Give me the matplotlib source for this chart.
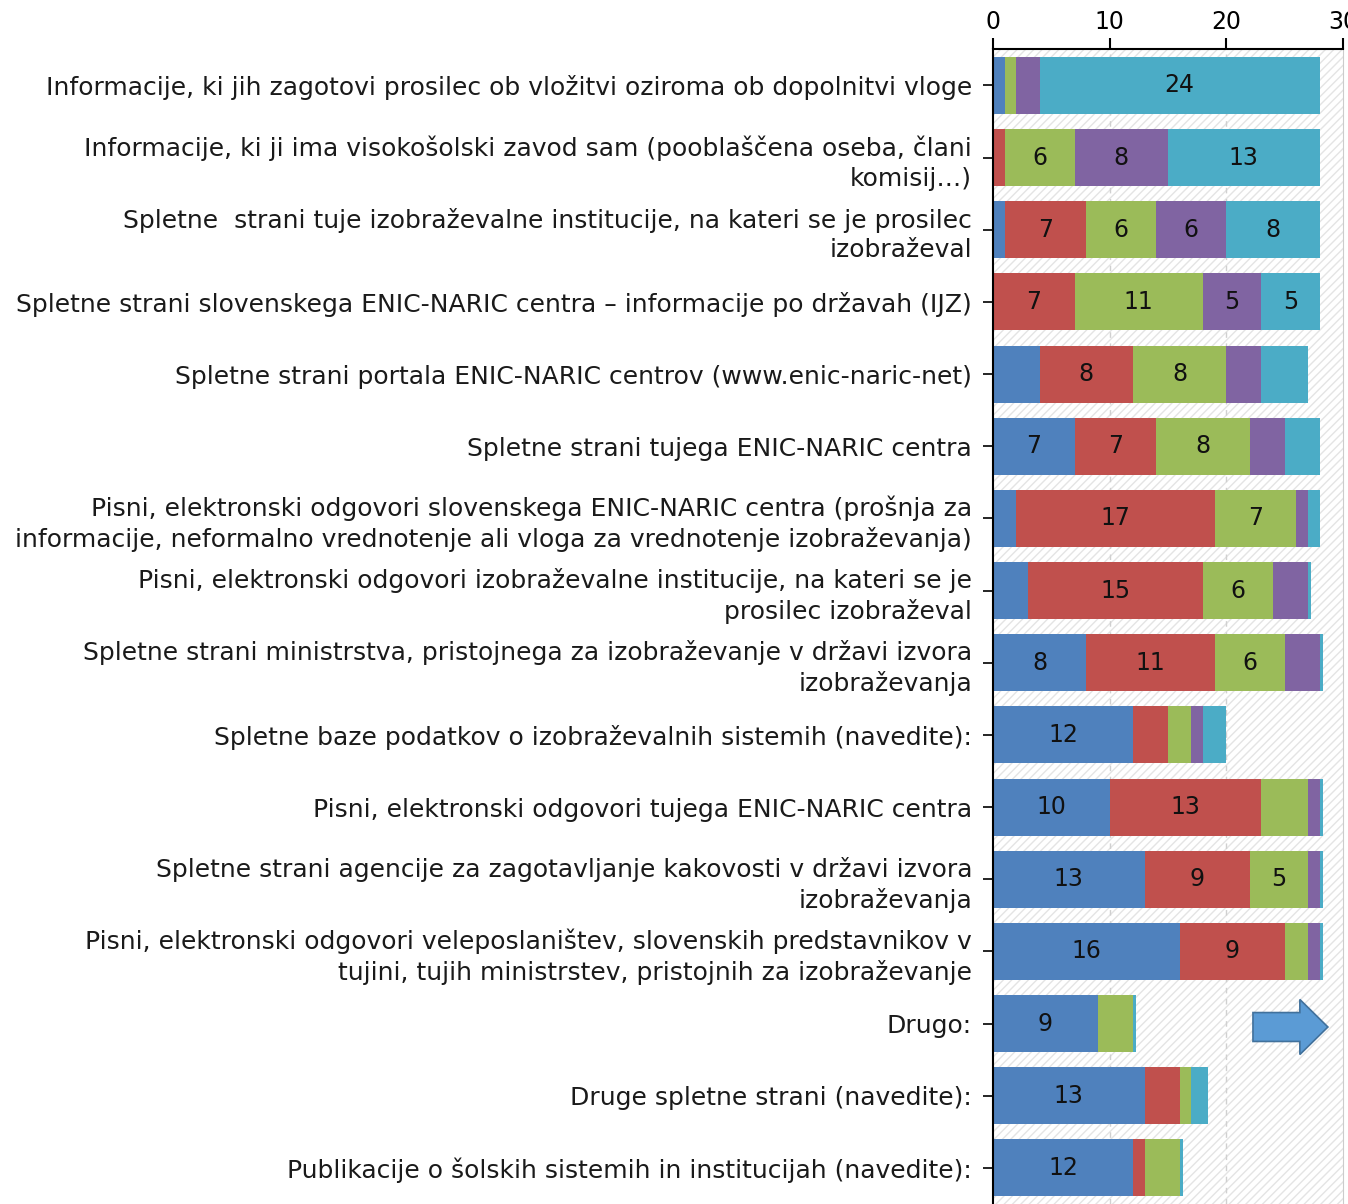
import numpy as np
import matplotlib
matplotlib.use("Agg")
import matplotlib.pyplot as plt
from matplotlib.patches import Rectangle, FancyArrow

# categories, top to bottom
labels = [
    "Informacije, ki jih zagotovi prosilec ob vložitvi oziroma ob dopolnitvi vloge",
    "Informacije, ki ji ima visokošolski zavod sam (pooblaščena oseba, člani\nkomisij…)",
    "Spletne  strani tuje izobraževalne institucije, na kateri se je prosilec\nizobraževal",
    "Spletne strani slovenskega ENIC-NARIC centra – informacije po državah (IJZ)",
    "Spletne strani portala ENIC-NARIC centrov (www.enic-naric-net)",
    "Spletne strani tujega ENIC-NARIC centra",
    "Pisni, elektronski odgovori slovenskega ENIC-NARIC centra (prošnja za\ninformacije, neformalno vrednotenje ali vloga za vrednotenje izobraževanja)",
    "Pisni, elektronski odgovori izobraževalne institucije, na kateri se je\nprosilec izobraževal",
    "Spletne strani ministrstva, pristojnega za izobraževanje v državi izvora\nizobraževanja",
    "Spletne baze podatkov o izobraževalnih sistemih (navedite):",
    "Pisni, elektronski odgovori tujega ENIC-NARIC centra",
    "Spletne strani agencije za zagotavljanje kakovosti v državi izvora\nizobraževanja",
    "Pisni, elektronski odgovori veleposlaništev, slovenskih predstavnikov v\ntujini, tujih ministrstev, pristojnih za izobraževanje",
    "Drugo:",
    "Druge spletne strani (navedite):",
    "Publikacije o šolskih sistemih in institucijah (navedite):",
]

# five stacked series
s_blue   = [1, 0, 1, 0, 4, 7, 2, 3, 8, 12, 10, 13, 16, 9, 13, 12]
s_red    = [0, 1, 7, 7, 8, 7, 17, 15, 11, 3, 13, 9, 9, 0, 3, 1]
s_green  = [1, 6, 6, 11, 8, 8, 7, 6, 6, 2, 4, 5, 2, 3, 1, 3]
s_purple = [2, 8, 6, 5, 3, 3, 1, 3, 3, 1, 1, 1, 1, 0, 0, 0]
s_teal   = [24, 13, 8, 5, 4, 3, 1, 0.3, 0.3, 2, 0.3, 0.3, 0.3, 0.3, 1.4, 0.3]

series = [s_blue, s_red, s_green, s_purple, s_teal]
colors = ["#4F81BD", "#C0504D", "#9BBB59", "#8064A2", "#4BACC6"]

xticks = [0, 10, 20, 30]

fig = plt.figure(figsize=(13.48, 12.04), dpi=100)
ax = fig.add_axes([0.7366, 0.0, 0.2596, 0.959])

y = np.arange(len(labels))

# hatched background of the plot area
ax.add_patch(Rectangle((0, 0), 1, 1, transform=ax.transAxes, facecolor="white",
                       edgecolor="#e4e4e4", hatch="////", lw=0, zorder=0))
for t in xticks[1:-1]:
    ax.axvline(t, color="#d0d0d0", ls=(0, (4, 4)), lw=1, zorder=1)

left = np.zeros(len(labels))
for vals, c in zip(series, colors):
    vals = np.array(vals, dtype=float)
    ax.barh(y, vals, left=left, height=0.79, color=c, zorder=2)
    for yi, (l, v) in enumerate(zip(left, vals)):
        if v >= 5:
            ax.text(l + v / 2, yi, f"{v:g}", ha="center", va="center",
                    fontsize=17, color="#111111", zorder=3)
    left += vals

ax.set_xlim(0, 30)
ax.set_ylim(len(labels) - 0.5, -0.5)
ax.set_xticks(xticks)
ax.xaxis.tick_top()
ax.tick_params(axis="x", direction="out", length=8, width=1.5, labelsize=17, pad=3)
ax.set_yticks(y)
ax.set_yticklabels(labels, fontsize=18, linespacing=1.3, color="#1a1a1a")
ax.tick_params(axis="y", direction="out", length=7, width=1.2, pad=8)

ax.spines["bottom"].set_visible(False)
ax.spines["right"].set_color("#cccccc")
ax.spines["left"].set_linewidth(1.5)
ax.spines["top"].set_linewidth(1.5)

# blue arrow decoration
fig.add_artist(FancyArrow(0.9295, 0.147, 0.0556, 0, width=0.024, head_width=0.0457,
                          head_length=0.0208, length_includes_head=True,
                          transform=fig.transFigure, facecolor="#5B9BD5",
                          edgecolor="#41719C", lw=1.2))

fig.savefig("out.png", dpi=100)
